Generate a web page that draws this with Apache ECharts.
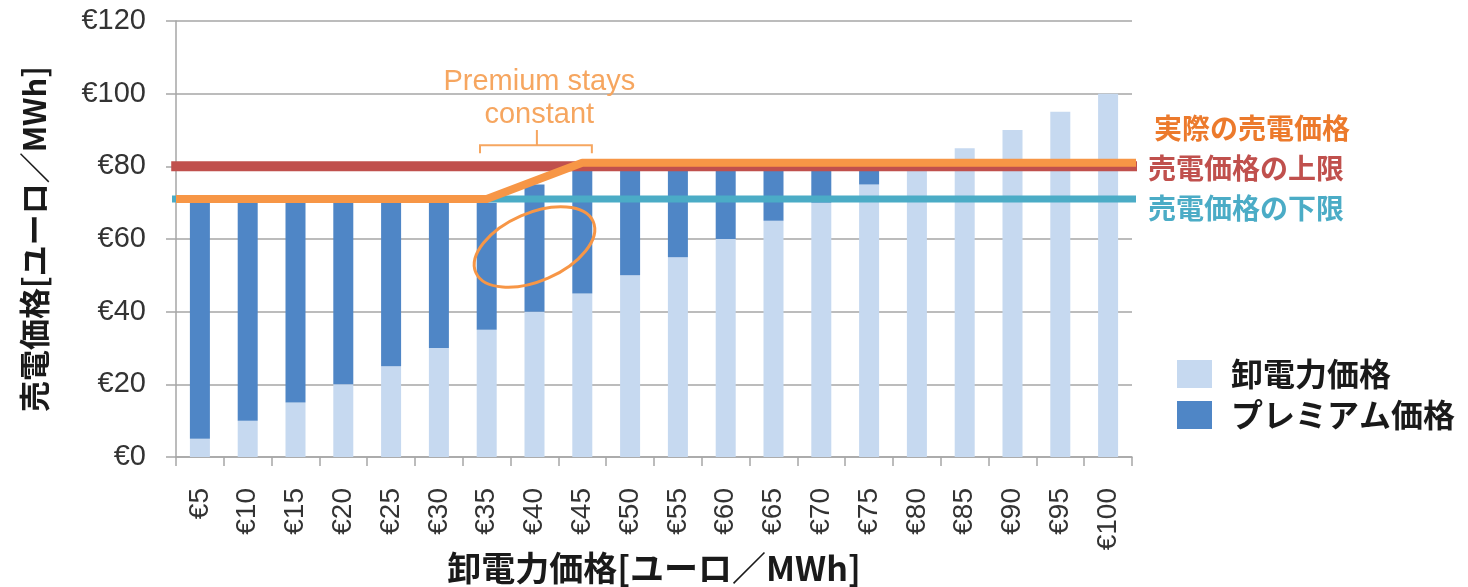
<!DOCTYPE html>
<html>
<head>
<meta charset="utf-8">
<script src="https://cdn.jsdelivr.net/npm/echarts@6/dist/echarts.min.js"></script>
<style>
  html, body { margin: 0; padding: 0; background: #ffffff; }
  #chart { width: 1468px; height: 587px; }
</style>
</head>
<body>
<div id="chart"></div>
<script>
// Wholesale price bands on the category axis
const categories = ['€5', '€10', '€15', '€20', '€25', '€30', '€35', '€40', '€45', '€50',
                    '€55', '€60', '€65', '€70', '€75', '€80', '€85', '€90', '€95', '€100'];
// Stacked bar parts (€/MWh)
const wholesalePrice = [5, 10, 15, 20, 25, 30, 35, 40, 45, 50, 55, 60, 65, 70, 75, 80, 85, 90, 95, 100];
const premiumPrice   = [65, 60, 55, 50, 45, 40, 35, 35, 35, 30, 25, 20, 15, 10, 5, 0, 0, 0, 0, 0];
// Reference lines (€/MWh)
const priceCap = 80;
const priceFloor = 71;
// Actual selling price: [position on category scale, €/MWh]
const actualPrice = [[0, 71], [6.5, 71], [8.5, 81], [20.15, 81]];
// Value axis ticks
const yMin = 0, yMax = 120, yStep = 20;

const names = {
  wholesale: '卸電力価格',
  premium: 'プレミアム価格',
  actual: '実際の売電価格',
  cap: '売電価格の上限',
  floor: '売電価格の下限'
};

const colors = {
  wholesale: '#c6d9f0',
  premium: '#4f86c6',
  actual: '#f79646',
  actualText: '#ec7a2c',
  cap: '#c0504d',
  floor: '#4bacc6',
  note: '#f6a660',
  grid: '#a6a6a6',
  text: '#333333',
  title: '#1a1a1a'
};

const latin = '"Liberation Sans", Arial, sans-serif';
const cjk = '"Noto Sans CJK JP", "Noto Sans", sans-serif';

// horizontal reach of the reference lines on the category scale
const refLineFrom = -0.1, refLineTo = 20.3;

const chart = echarts.init(document.getElementById('chart'), null, { renderer: 'canvas' });

chart.setOption({
  animation: false,
  backgroundColor: '#ffffff',
  grid: { left: 176, right: 336, top: 21, bottom: 130, containLabel: false, outerBoundsMode: 'none' },
  legend: {
    data: [names.wholesale, names.premium],
    orient: 'vertical',
    left: 1172,
    top: 353,
    itemWidth: 35,
    itemHeight: 28,
    itemGap: 9,
    icon: 'rect',
    textStyle: { fontFamily: cjk, fontSize: 32, fontWeight: 'bold', color: colors.title, padding: [0, 0, 0, 14] }
  },
  xAxis: [
    {
      type: 'category',
      data: categories,
      boundaryGap: true,
      name: '卸電力価格[ユーロ／MWh]',
      nameLocation: 'middle',
      nameGap: 94,
      nameMoveOverlap: false,
      nameTextStyle: { fontFamily: cjk, fontSize: 34, fontWeight: 'bold', color: colors.title },
      axisLine: { show: true, lineStyle: { color: colors.grid, width: 1.5 } },
      axisTick: { show: true, alignWithLabel: false, length: 9, lineStyle: { color: colors.grid, width: 1.5 } },
      axisLabel: { rotate: 90, margin: 31, fontFamily: latin, fontSize: 28, color: colors.text, interval: 0 },
      splitLine: { show: false }
    },
    {
      // continuous scale over the same band, used by the price lines
      type: 'value',
      min: 0,
      max: categories.length,
      show: false
    }
  ],
  yAxis: {
    type: 'value',
    min: yMin,
    max: yMax,
    interval: yStep,
    name: '売電価格[ユーロ／MWh]',
    nameLocation: 'middle',
    nameGap: 126,
    nameMoveOverlap: false,
    nameTextStyle: { fontFamily: cjk, fontSize: 31, fontWeight: 'bold', color: colors.title },
    axisLine: { show: true, lineStyle: { color: colors.grid, width: 1.5 } },
    axisTick: { show: true, length: 10, lineStyle: { color: colors.grid, width: 1.5 } },
    axisLabel: { margin: 30, fontFamily: latin, fontSize: 29, color: colors.text, formatter: v => '€' + v },
    splitLine: { show: true, lineStyle: { color: colors.grid, width: 1.5 } }
  },
  series: [
    {
      name: names.wholesale,
      type: 'bar',
      stack: 'price',
      data: wholesalePrice,
      barWidth: 20,
      itemStyle: { color: colors.wholesale },
      z: 2
    },
    {
      name: names.premium,
      type: 'bar',
      stack: 'price',
      data: premiumPrice,
      barWidth: 20,
      itemStyle: { color: colors.premium },
      z: 2
    },
    {
      name: names.cap,
      type: 'line',
      xAxisIndex: 1,
      data: [[refLineFrom, priceCap], [refLineTo, priceCap]],
      symbol: 'none',
      clip: false,
      lineStyle: { color: colors.cap, width: 10 },
      endLabel: {
        show: true, formatter: '{a}', distance: 11, offset: [0, 2],
        fontFamily: cjk, fontSize: 28, fontWeight: 'bold', color: colors.cap
      },
      z: 4
    },
    {
      name: names.floor,
      type: 'line',
      xAxisIndex: 1,
      data: [[refLineFrom, priceFloor], [refLineTo, priceFloor]],
      symbol: 'none',
      clip: false,
      lineStyle: { color: colors.floor, width: 7 },
      endLabel: {
        show: true, formatter: '{a}', distance: 12, offset: [0, 9],
        fontFamily: cjk, fontSize: 28, fontWeight: 'bold', color: colors.floor
      },
      z: 5
    },
    {
      name: names.actual,
      type: 'line',
      xAxisIndex: 1,
      data: actualPrice,
      symbol: 'none',
      clip: false,
      lineStyle: { color: colors.actual, width: 8, join: 'round' },
      endLabel: {
        show: true, formatter: '{a}', distance: 18, offset: [0, -34],
        fontFamily: cjk, fontSize: 28, fontWeight: 'bold', color: colors.actualText
      },
      z: 6
    }
  ]
});

// "Premium stays constant" note, placed on the data scale
function px(x, y) {
  return chart.convertToPixel({ xAxisIndex: 1, yAxisIndex: 0 }, [x, y]);
}
const ellipseAt = px(7.5, 57.8);
const bL = px(6.36, 83.6), bLt = px(6.36, 85.8), bC = px(7.55, 85.8), bCt = px(7.55, 90);
const bR = px(8.7, 83.6), bRt = px(8.7, 85.8);
const line1 = px(7.6, 103.2), line2 = px(7.6, 94.2);

chart.setOption({
  graphic: [
    {
      type: 'ellipse',
      x: ellipseAt[0], y: ellipseAt[1],
      rotation: 23.5 * Math.PI / 180,
      shape: { cx: 0, cy: 0, rx: 64, ry: 34 },
      style: { fill: 'none', stroke: colors.actual, lineWidth: 3 },
      z: 20
    },
    {
      type: 'polyline',
      shape: { points: [bL, bLt, bC, bCt, bC, bRt, bR] },
      style: { fill: 'none', stroke: colors.note, lineWidth: 2 },
      z: 20
    },
    {
      type: 'text',
      x: line1[0], y: line1[1],
      style: { text: 'Premium stays', fontFamily: latin, fontSize: 29, fill: colors.note, align: 'center', verticalAlign: 'middle' },
      z: 20
    },
    {
      type: 'text',
      x: line2[0], y: line2[1],
      style: { text: 'constant', fontFamily: latin, fontSize: 29, fill: colors.note, align: 'center', verticalAlign: 'middle' },
      z: 20
    }
  ]
});
</script>
</body>
</html>
